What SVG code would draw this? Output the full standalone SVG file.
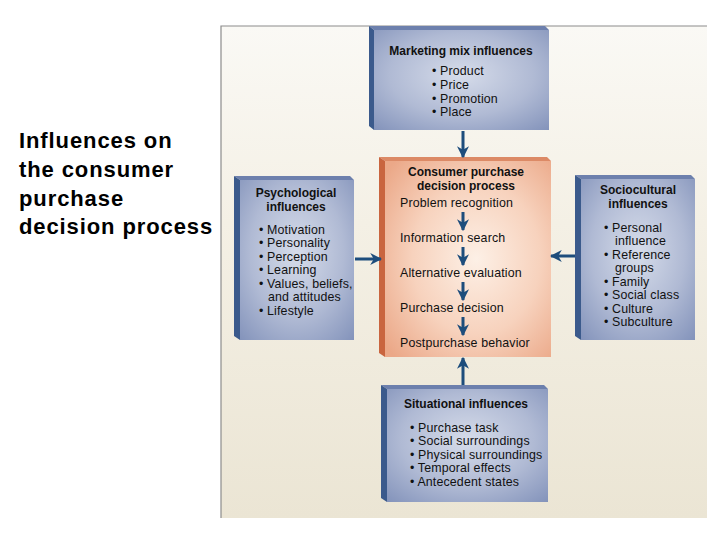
<svg xmlns="http://www.w3.org/2000/svg" width="720" height="540" viewBox="0 0 720 540">
<defs>
<linearGradient id="bg" x1="0" y1="0" x2="0" y2="1">
<stop offset="0" stop-color="#faf9f5"/>
<stop offset="0.4" stop-color="#f4f0e5"/>
<stop offset="1" stop-color="#ebe5d4"/>
</linearGradient>
<radialGradient id="blue" cx="0.5" cy="0.45" r="0.75">
<stop offset="0" stop-color="#d6dcea"/>
<stop offset="0.55" stop-color="#b0bad4"/>
<stop offset="1" stop-color="#8292ba"/>
</radialGradient>
<radialGradient id="orange" cx="0.55" cy="0.5" r="0.7">
<stop offset="0" stop-color="#fdf0e6"/>
<stop offset="0.55" stop-color="#f7d2bd"/>
<stop offset="1" stop-color="#eba888"/>
</radialGradient>
<marker id="ah" viewBox="0 0 10 10" refX="9" refY="5" markerWidth="4" markerHeight="4" orient="auto" markerUnits="strokeWidth">
<path d="M0,0 L10,5 L0,10 L3,5 Z" fill="#1d4d7c"/>
</marker>
<style>
.t{font-family:"Liberation Sans",Arial,sans-serif;fill:#111}
.h{font-size:12px;font-weight:bold;text-anchor:middle}
.i{font-size:12.4px;letter-spacing:0.15px}
.title{font-family:"Liberation Sans",Arial,sans-serif;font-size:22px;font-weight:bold;fill:#000;letter-spacing:0.9px}
.bs{fill:#3b5a8c}
.bt{fill:#6d80ad}
.os{fill:#c9653f}
.ot{fill:#dc8a66}
.ar{stroke:#1d4d7c;stroke-width:3;fill:none;marker-end:url(#ah)}
</style>
</defs>
<rect x="0" y="0" width="720" height="540" fill="#ffffff"/>
<rect x="221" y="26" width="486" height="492" fill="url(#bg)"/>
<path d="M221,518 L221,26 L707,26" fill="none" stroke="#8c8c8c" stroke-width="1.2"/>

<g id="title">
<text class="title" x="19" y="148">Influences on</text>
<text class="title" x="19" y="177">the consumer</text>
<text class="title" x="19" y="206">purchase</text>
<text class="title" x="19" y="234">decision process</text>
</g>

<g id="marketing">
<polygon class="bt" points="369,26 545,26 549,30 374,30"/>
<polygon class="bs" points="369,26 374,30 374,130 369,126"/>
<rect x="374" y="30" width="175" height="100" fill="url(#blue)"/>
<text class="t h" x="461" y="55">Marketing mix influences</text>
<text class="t i" x="432" y="75">• Product</text>
<text class="t i" x="432" y="89">• Price</text>
<text class="t i" x="432" y="103">• Promotion</text>
<text class="t i" x="432" y="116">• Place</text>
</g>

<g id="consumer">
<polygon class="ot" points="379,157 547,157 551,161 385,161"/>
<polygon class="os" points="379,157 385,161 385,357 379,353"/>
<rect x="385" y="161" width="166" height="196" fill="url(#orange)"/>
<text class="t h" x="466" y="176">Consumer purchase</text>
<text class="t h" x="466" y="190">decision process</text>
<text class="t i" x="400" y="207">Problem recognition</text>
<text class="t i" x="400" y="242">Information search</text>
<text class="t i" x="400" y="277">Alternative evaluation</text>
<text class="t i" x="400" y="312">Purchase decision</text>
<text class="t i" x="400" y="347">Postpurchase behavior</text>
</g>

<g id="psychological">
<polygon class="bt" points="234,176 350,176 354,180 240,180"/>
<polygon class="bs" points="234,176 240,180 240,340 234,336"/>
<rect x="240" y="180" width="114" height="160" fill="url(#blue)"/>
<text class="t h" x="296" y="197">Psychological</text>
<text class="t h" x="296" y="211">influences</text>
<text class="t i" x="259" y="234">• Motivation</text>
<text class="t i" x="259" y="247">• Personality</text>
<text class="t i" x="259" y="261">• Perception</text>
<text class="t i" x="259" y="274">• Learning</text>
<text class="t i" x="259" y="288">• Values, beliefs,</text>
<text class="t i" x="268" y="301">and attitudes</text>
<text class="t i" x="259" y="315">• Lifestyle</text>
</g>

<g id="sociocultural">
<polygon class="bt" points="575,175 691,175 695,179 581,179"/>
<polygon class="bs" points="575,175 581,179 581,340 575,336"/>
<rect x="581" y="179" width="114" height="161" fill="url(#blue)"/>
<text class="t h" x="638" y="194">Sociocultural</text>
<text class="t h" x="638" y="208">influences</text>
<text class="t i" x="604" y="232">• Personal</text>
<text class="t i" x="615" y="245">influence</text>
<text class="t i" x="604" y="259">• Reference</text>
<text class="t i" x="615" y="272">groups</text>
<text class="t i" x="604" y="286">• Family</text>
<text class="t i" x="604" y="299">• Social class</text>
<text class="t i" x="604" y="313">• Culture</text>
<text class="t i" x="604" y="326">• Subculture</text>
</g>

<g id="situational">
<polygon class="bt" points="381,385 544,385 548,389 387,389"/>
<polygon class="bs" points="381,385 387,389 387,502 381,498"/>
<rect x="387" y="389" width="161" height="113" fill="url(#blue)"/>
<text class="t h" x="466" y="408">Situational influences</text>
<text class="t i" x="410" y="432">• Purchase task</text>
<text class="t i" x="410" y="445">• Social surroundings</text>
<text class="t i" x="410" y="459">• Physical surroundings</text>
<text class="t i" x="410" y="472">• Temporal effects</text>
<text class="t i" x="410" y="486">• Antecedent states</text>
</g>

<g id="connectors">
<line class="ar" x1="463" y1="131" x2="463" y2="157"/>
<line class="ar" x1="355" y1="259" x2="381" y2="259"/>
<line class="ar" x1="575" y1="256" x2="551" y2="256"/>
<line class="ar" x1="463" y1="385" x2="463" y2="358"/>
<line class="ar" x1="463" y1="212" x2="463" y2="230"/>
<line class="ar" x1="463" y1="247" x2="463" y2="265"/>
<line class="ar" x1="463" y1="282" x2="463" y2="300"/>
<line class="ar" x1="463" y1="317" x2="463" y2="335"/>
</g>
</svg>
